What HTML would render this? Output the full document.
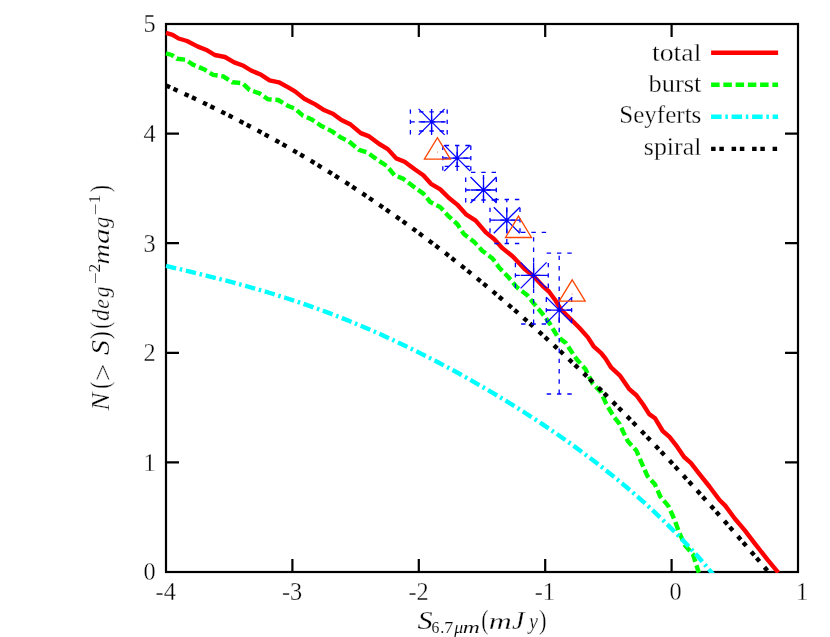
<!DOCTYPE html>
<html><head><meta charset="utf-8"><title>plot</title>
<style>
html,body{margin:0;padding:0;background:#fff;}
body{width:830px;height:637px;overflow:hidden;}
svg{display:block;will-change:transform;}
text{font-family:"Liberation Serif",serif;fill:#000;stroke:#fff;stroke-width:0.3px;vector-effect:non-scaling-stroke;}
.it{font-style:italic;}
</style></head><body>
<svg width="830" height="637" viewBox="0 0 830 637">
<rect width="830" height="637" fill="#fff"/>
<g stroke="#000" stroke-width="2.2" fill="none">
<rect x="166.0" y="24.0" width="632.0" height="548.0"/>
<path d="M292.4,572.0v-13.0 M292.4,24.0v13.0 M418.8,572.0v-13.0 M418.8,24.0v13.0 M545.2,572.0v-13.0 M545.2,24.0v13.0 M671.6,572.0v-13.0 M671.6,24.0v13.0 M166.0,462.4h13.0 M798.0,462.4h-13.0 M166.0,352.8h13.0 M798.0,352.8h-13.0 M166.0,243.2h13.0 M798.0,243.2h-13.0 M166.0,133.6h13.0 M798.0,133.6h-13.0"/>
</g>
<clipPath id="c"><rect x="165.2" y="23.0" width="633.8" height="550.0"/></clipPath>
<g clip-path="url(#c)">
<polyline points="165.9,32.9 172.6,34.8 178.6,38.5 187.0,41.0 197.9,46.6 207.2,50.3 214.8,55.0 224.9,57.0 234.2,62.4 243.5,65.8 251.1,70.5 261.2,74.8 269.6,80.3 278.9,82.3 288.2,87.4 295.0,91.4 304.3,98.8 315.2,104.4 324.5,110.3 332.9,113.7 341.4,120.1 350.7,124.6 360.8,133.1 369.2,136.4 379.3,144.0 387.8,149.1 396.2,158.4 404.6,161.7 414.7,169.3 423.3,175.2 431.0,183.8 440.3,189.4 448.7,197.8 457.2,204.6 466.4,214.7 475.7,220.6 485.8,232.4 494.3,239.2 502.7,248.4 512.8,256.5 521.3,265.5 525.3,269.6 533.7,276.3 542.2,285.6 548.9,291.5 555.7,300.8 560.7,309.2 570.8,319.3 579.3,327.8 587.7,337.1 593.6,346.3 601.2,353.1 605.4,358.4 611.3,367.7 619.7,375.3 629.0,388.8 636.6,395.5 643.3,404.8 649.2,414.1 655.1,418.3 662.7,431.0 669.5,436.9 677.3,446.9 684.1,457.0 690.8,462.9 699.3,473.9 709.4,486.5 719.5,500.0 725.4,505.9 734.7,518.5 744.8,530.4 754.5,543.2 767.9,560.1 778.3,572.6" fill="none" stroke="#ff0000" stroke-width="4.4" stroke-linejoin="round"/>
<polyline points="165.9,53.3 171.8,55.0 176.9,58.7 185.3,59.6 192.9,64.6 203.9,69.2 213.1,74.8 223.2,76.4 232.5,82.3 242.6,83.2 249.4,89.9 259.5,93.3 267.9,99.2 278.1,100.0 288.2,106.0 295.0,108.6 302.6,115.4 311.9,119.6 322.0,126.3 332.1,131.4 340.5,137.3 349.0,141.5 359.1,149.9 367.5,152.5 377.6,160.1 386.9,166.0 394.5,175.2 402.9,178.6 413.1,186.2 423.4,193.6 430.2,202.0 440.3,207.1 448.7,216.4 457.2,224.0 463.9,234.1 474.0,241.7 482.5,251.0 492.6,258.5 499.3,267.8 508.4,277.2 516.9,287.3 527.0,294.9 533.7,303.3 542.2,313.4 549.8,323.6 557.3,336.2 565.8,343.0 572.5,353.1 576.7,359.3 585.1,368.6 592.7,383.7 601.1,392.2 606.2,404.0 613.8,416.6 619.7,424.2 623.7,432.9 627.9,441.3 636.4,450.6 641.4,462.4 647.3,475.9 654.9,484.3 660.3,496.5 668.4,506.1 674.2,519.0 679.4,533.0 685.3,545.8 692.9,554.2 698.8,572.6" fill="none" stroke="#00ff00" stroke-width="4.4" stroke-linejoin="round" stroke-dasharray="8.47 3.73"/>
<polyline points="166.0,265.8 174.0,267.8 182.0,269.7 190.0,271.7 198.0,273.6 206.0,275.6 214.0,277.6 222.0,279.6 230.0,281.7 238.0,283.9 246.0,286.0 254.0,288.3 262.0,290.6 270.0,293.0 278.0,295.5 286.0,298.0 294.0,300.6 302.0,303.3 310.0,306.1 318.0,309.0 326.0,311.9 334.0,314.9 342.0,318.1 350.0,321.3 358.0,324.6 366.0,328.0 374.0,331.4 382.0,335.0 390.0,338.6 398.0,342.4 406.0,346.2 414.0,350.1 422.0,354.1 430.0,358.1 438.0,362.3 446.0,366.5 454.0,370.8 462.0,375.2 470.0,379.7 478.0,384.3 486.0,388.9 494.0,393.7 502.0,398.5 510.0,403.4 518.0,408.4 526.0,413.5 534.0,418.6 542.0,423.9 550.0,429.3 558.0,434.8 566.0,440.4 574.0,446.1 582.0,452.0 590.0,458.0 598.0,464.1 606.0,470.4 614.0,476.8 622.0,483.4 630.0,490.1 638.0,497.1 646.0,504.2 654.0,511.6 662.0,519.2 670.0,527.1 678.0,535.2 686.0,543.6 694.0,552.2 702.0,561.2 710.0,570.6 718.0,580.3" fill="none" stroke="#00ffff" stroke-width="4.4" stroke-linejoin="round" stroke-dasharray="10.45 3.73 2.49 3.73"/>
<polyline points="166.0,85.4 174.0,89.0 182.0,92.7 190.0,96.4 198.0,100.2 206.0,104.1 214.0,108.0 222.0,112.0 230.0,116.0 238.0,120.1 246.0,124.3 254.0,128.5 262.0,132.8 270.0,137.2 278.0,141.7 286.0,146.2 294.0,150.8 302.0,155.5 310.0,160.3 318.0,165.1 326.0,170.0 334.0,175.0 342.0,180.1 350.0,185.2 358.0,190.5 366.0,195.8 374.0,201.2 382.0,206.7 390.0,212.3 398.0,217.9 406.0,223.6 414.0,229.5 422.0,235.4 430.0,241.4 438.0,247.4 446.0,253.6 454.0,259.9 462.0,266.2 470.0,272.6 478.0,279.1 486.0,285.7 494.0,292.4 502.0,299.2 510.0,306.1 518.0,313.0 526.0,320.1 534.0,327.2 542.0,334.4 550.0,341.7 558.0,349.1 566.0,356.5 574.0,364.1 582.0,371.7 590.0,379.4 598.0,387.2 606.0,395.1 614.0,403.1 622.0,411.1 630.0,419.3 638.0,427.5 646.0,435.7 654.0,444.1 662.0,452.6 670.0,461.1 678.0,469.7 686.0,478.4 694.0,487.1 702.0,495.9 710.0,504.8 718.0,513.8 726.0,522.8 734.0,531.9 742.0,541.1 750.0,550.3 758.0,559.6 766.0,569.0 774.0,578.4" fill="none" stroke="#000000" stroke-width="4.4" stroke-linejoin="round" stroke-dasharray="4.48 3.73 4.48 7.71"/>
</g>
<g stroke="#0000ff" stroke-width="1.3" fill="none">
<g stroke-dasharray="4.4 5.9">
<path d="M431.6,131.0V111.9 M419.1,111.9H444.1 M419.1,131.0H444.1 M410.4,121.9H447.2 M410.4,109.4V134.4 M447.2,109.4V134.4"/>
</g>
<path d="M418.6,121.9H444.6 M431.6,108.9V134.9 M418.6,108.9L444.6,134.9 M418.6,134.9L444.6,108.9"/>
<g stroke-dasharray="4.4 5.9">
<path d="M457.2,166.4V145.5 M444.7,145.5H469.7 M444.7,166.4H469.7 M442.8,158.1H470.8 M442.8,145.6V170.6 M470.8,145.6V170.6"/>
</g>
<path d="M444.2,158.1H470.2 M457.2,145.1V171.1 M444.2,145.1L470.2,171.1 M444.2,171.1L470.2,145.1"/>
<g stroke-dasharray="4.4 5.9">
<path d="M483.5,200.0V172.4 M471.0,172.4H496.0 M471.0,200.0H496.0 M465.7,190.0H496.3 M465.7,177.5V202.5 M496.3,177.5V202.5"/>
</g>
<path d="M470.5,190.0H496.5 M483.5,177.0V203.0 M470.5,177.0L496.5,203.0 M470.5,203.0L496.5,177.0"/>
<g stroke-dasharray="4.4 5.9">
<path d="M506.8,243.5V199.5 M494.3,199.5H519.3 M494.3,243.5H519.3 M490.0,220.2H520.0 M490.0,207.7V232.7 M520.0,207.7V232.7"/>
</g>
<path d="M493.8,220.2H519.8 M506.8,207.2V233.2 M493.8,207.2L519.8,233.2 M493.8,233.2L519.8,207.2"/>
<g stroke-dasharray="4.4 5.9">
<path d="M533.6,324.0V232.4 M521.1,232.4H546.1 M521.1,324.0H546.1 M515.4,275.4H548.3 M515.4,262.9V287.9 M548.3,262.9V287.9"/>
</g>
<path d="M520.6,275.4H546.6 M533.6,262.4V288.4 M520.6,262.4L546.6,288.4 M520.6,288.4L546.6,262.4"/>
<g stroke-dasharray="4.4 5.9">
<path d="M559.2,394.0V253.1 M546.7,253.1H571.7 M546.7,394.0H571.7 M546.3,310.1H571.6 M546.3,297.6V322.6 M571.6,297.6V322.6"/>
</g>
<path d="M546.2,310.1H572.2 M559.2,297.1V323.1 M546.2,297.1L572.2,323.1 M546.2,323.1L572.2,297.1"/>
</g>
<g stroke="#ff4500" stroke-width="1.3" fill="none">
<path d="M437.4,137.7L450.4,159.1H424.4Z"/>
<circle cx="437.4" cy="152.0" r="0.5" fill="#ff4500" stroke="none"/>
<path d="M518.5,216.1L531.5,237.5H505.5Z"/>
<circle cx="518.5" cy="230.4" r="0.5" fill="#ff4500" stroke="none"/>
<path d="M572.2,279.8L585.2,301.2H559.2Z"/>
<circle cx="572.2" cy="294.1" r="0.5" fill="#ff4500" stroke="none"/>
</g>
<text x="155.6" y="580.4" font-size="24.3" text-anchor="end">0</text>
<text x="155.6" y="470.8" font-size="24.3" text-anchor="end">1</text>
<text x="155.6" y="361.2" font-size="24.3" text-anchor="end">2</text>
<text x="155.6" y="251.6" font-size="24.3" text-anchor="end">3</text>
<text x="155.6" y="142.0" font-size="24.3" text-anchor="end">4</text>
<text x="155.6" y="32.4" font-size="24.3" text-anchor="end">5</text>
<text x="165.7" y="600.4" font-size="24.3" text-anchor="middle">-4</text>
<text x="292.1" y="600.4" font-size="24.3" text-anchor="middle">-3</text>
<text x="418.5" y="600.4" font-size="24.3" text-anchor="middle">-2</text>
<text x="544.9" y="600.4" font-size="24.3" text-anchor="middle">-1</text>
<text x="675.6" y="600.4" font-size="24.3" text-anchor="middle">0</text>
<text x="802.0" y="600.4" font-size="24.3" text-anchor="middle">1</text>
<text x="701.4" y="61.3" font-size="25" text-anchor="end" textLength="49.4" lengthAdjust="spacingAndGlyphs">total</text>
<polyline points="711.1,52.7 778.1,52.7" fill="none" stroke="#ff0000" stroke-width="4.4" stroke-linejoin="round"/>
<text x="701.4" y="92.4" font-size="25" text-anchor="end" textLength="53.0" lengthAdjust="spacingAndGlyphs">burst</text>
<polyline points="711.1,84.8 778.1,84.8" fill="none" stroke="#00ff00" stroke-width="4.4" stroke-linejoin="round" stroke-dasharray="8.5 3.75"/>
<text x="701.4" y="123.3" font-size="25" text-anchor="end" textLength="82.2" lengthAdjust="spacingAndGlyphs">Seyferts</text>
<polyline points="711.1,116.8 778.1,116.8" fill="none" stroke="#00ffff" stroke-width="4.4" stroke-linejoin="round" stroke-dasharray="10.5 3.75 2.5 3.75"/>
<text x="701.4" y="155.0" font-size="25" text-anchor="end" textLength="57.6" lengthAdjust="spacingAndGlyphs">spiral</text>
<polyline points="711.1,148.9 778.1,148.9" fill="none" stroke="#000000" stroke-width="4.4" stroke-linejoin="round" stroke-dasharray="4.5 3.75 4.5 7.75"/>
<g transform="translate(109.3,0) rotate(-90)">
<text transform="translate(-410.83,0) scale(1.048,1)" font-size="26" class="it">N</text>
<text transform="translate(-388.77,0) scale(0.828,1)" font-size="26.4">(</text>
<text transform="translate(-381.05,3.1) scale(1.109,1)" font-size="28">&gt;</text>
<text transform="translate(-355.10,0) scale(1.154,1)" font-size="26" class="it">S</text>
<text transform="translate(-339.32,0) scale(0.903,1)" font-size="26.4">)</text>
<text transform="translate(-328.74,0) scale(0.800,1)" font-size="26.4">(</text>
<text transform="translate(-320.90,0) scale(0.933,1)" font-size="25" class="it">d</text>
<text transform="translate(-308.65,0) scale(0.926,1)" font-size="23.5" class="it">e</text>
<text transform="translate(-297.50,0) scale(0.949,1)" font-size="23.5" class="it">g</text>
<text transform="translate(-284.35,-7.9) scale(1.288,1)" font-size="16.5" style="stroke-width:0.12px">−</text>
<text transform="translate(-272.39,-9.4) scale(1.069,1)" font-size="16.2" style="stroke-width:0.12px">2</text>
<text transform="translate(-264.46,0) scale(1.219,1)" font-size="23.5" class="it">m</text>
<text transform="translate(-244.12,0) scale(1.324,1)" font-size="23.5" class="it">a</text>
<text transform="translate(-228.00,0) scale(0.957,1)" font-size="23.5" class="it">g</text>
<text transform="translate(-215.55,-7.9) scale(1.288,1)" font-size="16.5" style="stroke-width:0.12px">−</text>
<text transform="translate(-203.26,-9.4) scale(1.046,1)" font-size="16.2" style="stroke-width:0.12px">1</text>
<text transform="translate(-192.35,0) scale(0.816,1)" font-size="26.4">)</text>
</g>
<text transform="translate(417.40,629.0) scale(1.162,1)" font-size="26" class="it">S</text>
<text transform="translate(431.47,632.8) scale(0.956,1)" font-size="16.4" style="stroke-width:0.12px">6</text>
<text transform="translate(440.13,632.8) scale(0.985,1)" font-size="16.4" style="stroke-width:0.12px">.</text>
<text transform="translate(444.21,632.8) scale(1.103,1)" font-size="16.4" style="stroke-width:0.12px">7</text>
<text transform="translate(454.18,632.8) scale(1.092,1)" font-size="16.4" class="it" style="stroke-width:0.12px">μ</text>
<text transform="translate(462.69,632.8) scale(1.441,1)" font-size="16.4" class="it" style="stroke-width:0.12px">m</text>
<text transform="translate(481.23,629.0) scale(0.828,1)" font-size="26.4">(</text>
<text transform="translate(488.75,629.0) scale(1.354,1)" font-size="23.5" class="it">m</text>
<text transform="translate(512.12,629.0) scale(1.082,1)" font-size="26" class="it">J</text>
<text transform="translate(529.02,629.0) scale(0.859,1)" font-size="23.5" class="it">y</text>
<text transform="translate(539.12,629.0) scale(0.860,1)" font-size="26.4">)</text>
</svg></body></html>
